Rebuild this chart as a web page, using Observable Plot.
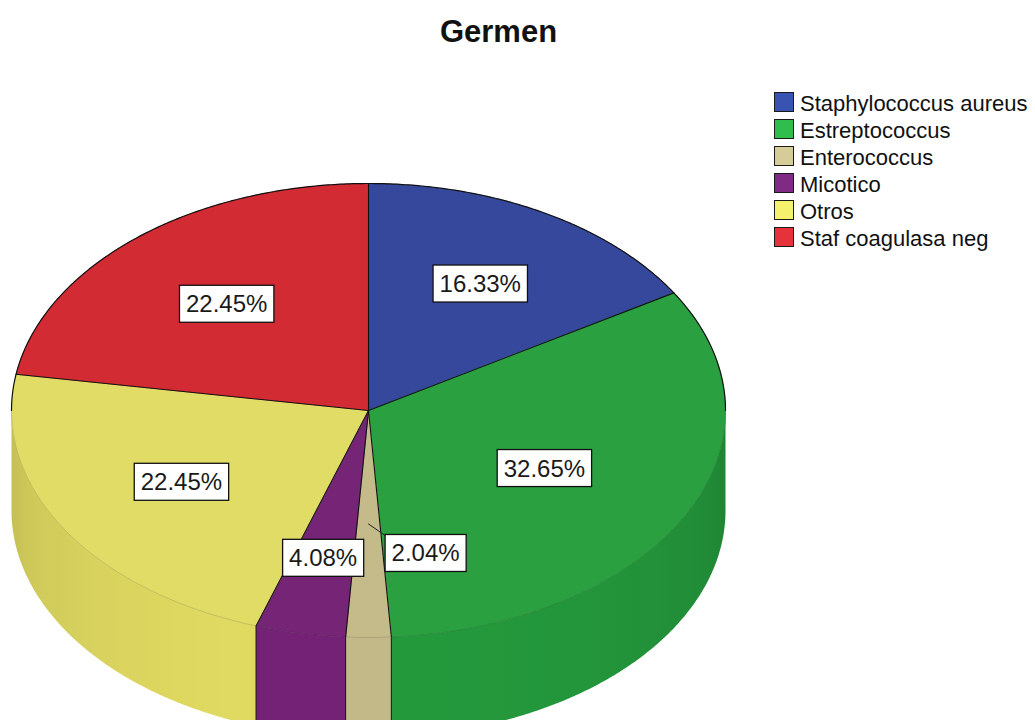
<!DOCTYPE html>
<html>
<head>
<meta charset="utf-8">
<script src="https://cdn.jsdelivr.net/npm/d3@7"></script>
<script src="https://cdn.jsdelivr.net/npm/@observablehq/plot@0.6"></script>
<style>
  body { margin: 0; background: #fff; font-family: "Liberation Sans", Arial, sans-serif; }
  #wrap { position: relative; width: 1035px; height: 720px; overflow: hidden; background: #fff; }
  #chart { position: absolute; left: 0; top: 0; }
  #title { position: absolute; left: 0; width: 997px; top: 13px; text-align: center; font-weight: bold; font-size: 31px; line-height: 37px; color: #111; }
  #legend { position: absolute; left: 774px; top: 92px; }
  .row { position: absolute; left: 0; height: 20px; white-space: nowrap; }
  .sw { position: absolute; left: 0; top: 0; width: 20px; height: 20px; box-sizing: border-box; border: 1.5px solid #1a1a1a; }
  .lt { position: absolute; left: 26px; top: 1px; font-size: 22px; line-height: 22px; color: #111; }
</style>
</head>
<body>
<div id="wrap">
  <div id="chart"></div>
  <div id="title">Germen</div>
  <div id="legend"></div>
</div>
<script>
// ---- data ----
const categories = ["Staphylococcus aureus", "Estreptococcus", "Enterococcus", "Micotico", "Otros", "Staf coagulasa neg"];
const percents = [16.33, 32.65, 2.04, 4.08, 22.45, 22.45];
const topColors = ["#36489c", "#2aa040", "#c4ba8a", "#762476", "#e1dc66", "#d22b34"];
const sideColors = ["#33448f", "#24993c", "#c2b888", "#742276", "#e2dc62", "#c52830"];
const legendColors = ["#3953b3", "#2fbd4b", "#d6cc9a", "#7f2a85", "#f4f16c", "#e5323b"];

// ---- geometry helpers (unit ellipse; tilt handled by x/y scales) ----
const depth = 100 / 227;
const arcs = d3.pie().sort(null).value(d => d)(percents);
const pt = (a, r = 1, dz = 0) => ({x: r * Math.sin(a), y: r * Math.cos(a) - dz});
function arcPts(a0, a1, r = 1, dz = 0) {
  const n = Math.max(2, Math.ceil((a1 - a0) / (Math.PI / 360)));
  return d3.range(n + 1).map(k => pt(a0 + (a1 - a0) * k / n, r, dz));
}
const FRONT0 = Math.PI / 2, FRONT1 = 3 * Math.PI / 2;

// top faces (fill only)
const topData = arcs.flatMap((a, i) =>
  [{x: 0, y: 0}, ...arcPts(a.startAngle, a.endAngle), {x: 0, y: 0}]
    .map(p => ({...p, k: i, fill: topColors[i]})));

// radial edges
const radialData = arcs.flatMap((a, i) => [{x: 0, y: 0, k: i}, {...pt(a.startAngle), k: i}]);

// outer rim outline: back part black, front part a darker shade of the slice
const rimBack = [], rimFront = [];
let rk = 0;
arcs.forEach((a, i) => {
  const parts = [[a.startAngle, Math.min(a.endAngle, FRONT0), "back"],
                 [Math.max(a.startAngle, FRONT0), Math.min(a.endAngle, FRONT1), "front"],
                 [Math.max(a.startAngle, FRONT1), a.endAngle, "back"]];
  parts.forEach(([s, e, kind]) => {
    if (e <= s) return;
    const c = d3.color(topColors[i]).darker(0.9).formatHex();
    arcPts(s, e).forEach(p => (kind === "back" ? rimBack : rimFront).push({...p, k: rk, stroke: c}));
    rk++;
  });
});

// side walls (front half only), filled with a horizontal shading gradient
const sideData = [];
arcs.forEach((a, i) => {
  const s = Math.max(a.startAngle, FRONT0), e = Math.min(a.endAngle, FRONT1);
  if (e <= s) return;
  const poly = [...arcPts(s, e), ...arcPts(s, e, 1, depth).reverse()];
  poly.forEach(p => sideData.push({...p, k: i, fill: `url(#side${i})`}));
});

// vertical edges on the side wall at slice boundaries
const edgeData = [];
arcs.forEach((a, i) => {
  const b = a.startAngle;
  if (b > FRONT0 && b < FRONT1) {
    edgeData.push({...pt(b), k: i}, {...pt(b, 1, depth), k: i});
  }
});

// labels at sector centroids; tiny slices get a callout to the right
const labelData = arcs.map((a, i) => {
  const mid = (a.startAngle + a.endAngle) / 2, half = (a.endAngle - a.startAngle) / 2;
  const d = 2 * Math.sin(half) / (3 * half);
  let p = pt(mid, d), callout = false;
  if (percents[i] < 3) { p = {x: p.x + 0.16, y: p.y + 0.035}; callout = true; }
  return {...p, text: d3.format(".2f")(percents[i]) + "%", mid, callout, k: i};
});
const leaderData = labelData.filter(d => d.callout).flatMap(d => [
  {...pt(d.mid, 0.5), k: d.k},
  {x: d.x - 0.112, y: d.y + 0.079, k: d.k}
]);

const chart = Plot.plot({
  width: 1035,
  height: 720,
  margin: 0,
  x: {domain: [-1, 1], range: [11, 725], axis: null},
  y: {domain: [-1, 1], range: [637, 183], axis: null},
  color: {type: "identity"},
  marks: [
    Plot.line(sideData, {x: "x", y: "y", z: "k", fill: "fill", stroke: "none", strokeWidth: 0}),
    Plot.line(edgeData, {x: "x", y: "y", z: "k", stroke: "#111", strokeWidth: 1}),
    Plot.line(topData, {x: "x", y: "y", z: "k", fill: "fill", stroke: "fill", strokeWidth: 0.5}),
    Plot.line(rimFront, {x: "x", y: "y", z: "k", stroke: "stroke", strokeWidth: 0.9, strokeOpacity: 0.6}),
    Plot.line(rimBack, {x: "x", y: "y", z: "k", stroke: "#111", strokeWidth: 1.2}),
    Plot.line(radialData, {x: "x", y: "y", z: "k", stroke: "#111", strokeWidth: 1.1}),
    Plot.line(leaderData, {x: "x", y: "y", z: "k", stroke: "#222", strokeWidth: 1}),
    Plot.text(labelData, {x: "x", y: "y", text: "text", fontSize: 24, fill: "#1a1a1a",
      fontFamily: "Liberation Sans, Arial, sans-serif", textAnchor: "middle"})
  ]
});
document.getElementById("chart").appendChild(chart);

const ns = "http://www.w3.org/2000/svg";

// gradient definitions for the side walls
const xs = chart.scale("x");
const defs = document.createElementNS(ns, "defs");
sideColors.forEach((c, i) => {
  const g = document.createElementNS(ns, "linearGradient");
  g.setAttribute("id", `side${i}`);
  g.setAttribute("gradientUnits", "userSpaceOnUse");
  g.setAttribute("x1", xs.apply(-1)); g.setAttribute("x2", xs.apply(1));
  g.setAttribute("y1", 0); g.setAttribute("y2", 0);
  d3.range(0, 41).forEach(j => {
    const u = -1 + j / 20;
    const shade = 0.38 * (1 - Math.sqrt(Math.max(0, 1 - u * u)));
    const st = document.createElementNS(ns, "stop");
    st.setAttribute("offset", (u + 1) / 2);
    st.setAttribute("stop-color", d3.color(c).darker(shade).formatHex());
    g.appendChild(st);
  });
  defs.appendChild(g);
});
chart.insertBefore(defs, chart.firstChild);

// white boxes behind labels
chart.querySelectorAll('g[aria-label="text"] text').forEach(t => {
  const b = t.getBBox();
  const r = document.createElementNS(ns, "rect");
  const w = b.width + 13, h = 37, cy = b.y + b.height / 2;
  r.setAttribute("x", b.x + b.width / 2 - w / 2);
  r.setAttribute("y", cy - h / 2);
  r.setAttribute("width", w);
  r.setAttribute("height", h);
  r.setAttribute("fill", "#fff");
  r.setAttribute("stroke", "#111");
  r.setAttribute("stroke-width", "1.3");
  if (t.getAttribute("transform")) r.setAttribute("transform", t.getAttribute("transform"));
  t.parentNode.insertBefore(r, t);
});

// legend
const legend = document.getElementById("legend");
categories.forEach((c, i) => {
  const row = document.createElement("div");
  row.className = "row";
  row.style.top = (i * 27) + "px";
  const sw = document.createElement("div");
  sw.className = "sw";
  sw.style.background = legendColors[i];
  const lt = document.createElement("div");
  lt.className = "lt";
  lt.textContent = c;
  row.appendChild(sw);
  row.appendChild(lt);
  legend.appendChild(row);
});
</script>
</body>
</html>
